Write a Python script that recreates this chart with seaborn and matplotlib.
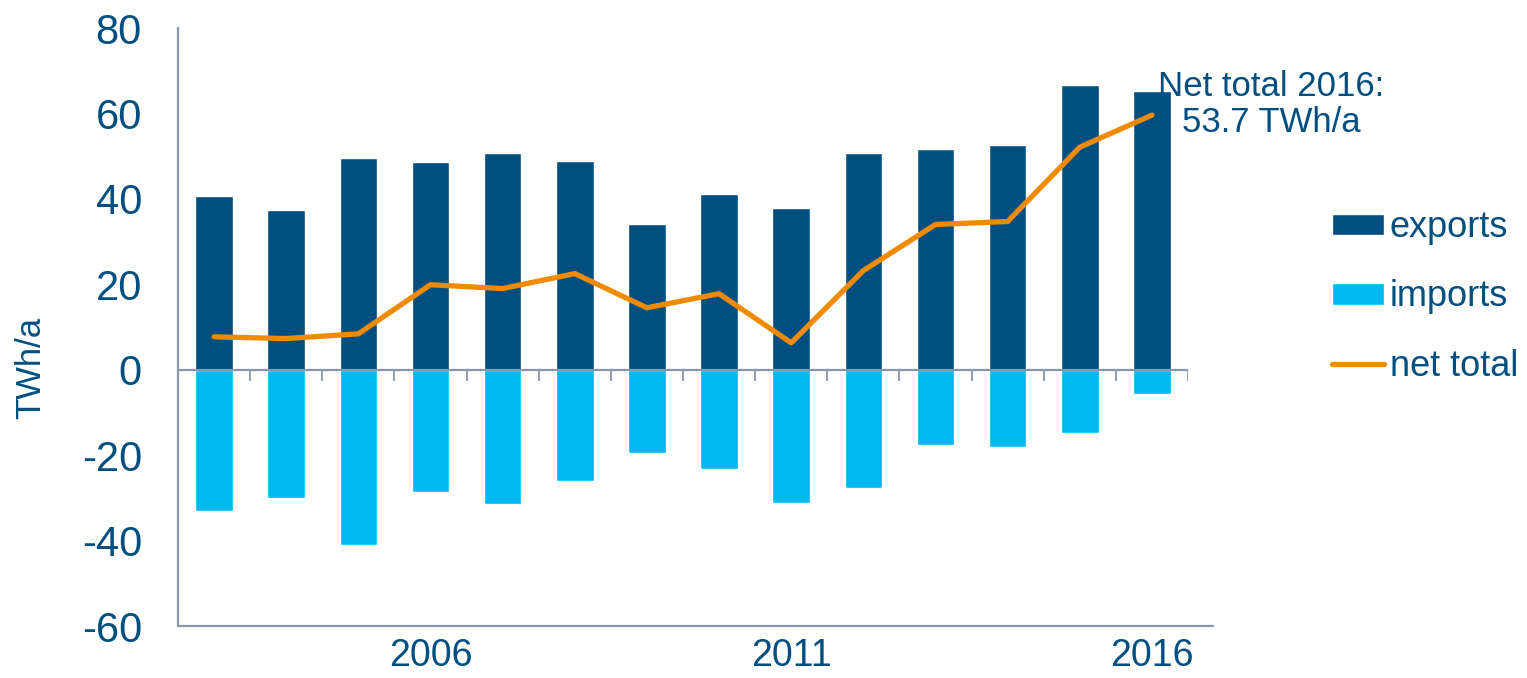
import numpy as np
import pandas as pd
import seaborn as sns
import matplotlib.pyplot as plt

# values (TWh/a)
years = [str(y) for y in range(2003, 2017)]
exports = [40.6, 37.5, 49.5, 48.6, 50.7, 48.8, 34.0, 41.1, 37.8, 50.7, 51.6, 52.6, 66.6, 65.2]
imports = [-33.1, -30.0, -41.1, -28.6, -31.4, -26.0, -19.5, -23.2, -31.2, -27.7, -17.6, -18.1, -14.8, -5.6]
net_total = [7.7, 7.3, 8.4, 19.9, 19.0, 22.5, 14.5, 17.8, 6.3, 23.2, 34.0, 34.7, 52.1, 59.6]
shown_years = ['2006', '2011', '2016']
y_ticks = [-60, -40, -20, 0, 20, 40, 60, 80]

EXPORT_COL = '#004f80'
IMPORT_COL = '#00b9f0'
NET_COL = '#f08a00'
TEXT_COL = '#004f80'
AXIS_COL = '#8a97ab'

sns.set_theme(style='white')
plt.rcParams['font.family'] = ['Liberation Sans', 'DejaVu Sans']

df = pd.DataFrame({'year': years, 'exports': exports, 'imports': imports, 'net': net_total})

fig = plt.figure(figsize=(15.27, 6.78), dpi=100)
ax = fig.add_axes([178 / 1527, 1 - 626 / 678, 1010 / 1527, 598 / 678])

sns.barplot(data=df, x='year', y='exports', color=EXPORT_COL, saturation=1,
            width=0.52, errorbar=None, ax=ax, label='exports')
sns.barplot(data=df, x='year', y='imports', color=IMPORT_COL, saturation=1,
            width=0.52, errorbar=None, ax=ax, label='imports')
sns.lineplot(x=df.index, y=df['net'], color=NET_COL, linewidth=3.8, ax=ax,
             label='net total', solid_capstyle='round', solid_joinstyle='round')

n = len(years)
ax.set_xlim(-0.5, n - 0.5)
ax.set_ylim(-60, 80)
ax.set_yticks(y_ticks)
ax.set_yticklabels([str(t) for t in y_ticks])
ax.set_xticks([years.index(y) for y in shown_years])
ax.set_xticklabels(shown_years)
ax.set_xlabel('')
ax.set_ylabel('')

ax.tick_params(axis='y', length=0, pad=26, labelsize=30, labelcolor=TEXT_COL)
ax.tick_params(axis='x', length=0, pad=9, labelsize=27, labelcolor=TEXT_COL)

# axes frame: left and bottom only
for side in ['top', 'right']:
    ax.spines[side].set_visible(False)
ax.spines['left'].set_color(AXIS_COL)
ax.spines['left'].set_linewidth(1.6)
ax.spines['bottom'].set_visible(False)
ax.plot([0, 1.025], [0, 0], transform=ax.transAxes, color=AXIS_COL,
        linewidth=1.6, clip_on=False, zorder=3)

# zero line with category separators
ax.axhline(0, color=AXIS_COL, linewidth=1.6, zorder=3)
ax.vlines(np.arange(n) + 0.5, -2.7, 0, color=AXIS_COL, linewidth=1.3, zorder=3)

ax.text(14.65, 62.1, 'Net total 2016:\n53.7 TWh/a', ha='center', va='center',
        multialignment='center', fontsize=25, color=TEXT_COL, clip_on=False,
        linespacing=1.15)

fig.text(31 / 1527, 1 - 368 / 678, 'TWh/a', rotation=90, ha='center', va='center',
         fontsize=25, color=TEXT_COL)

handles, labels = ax.get_legend_handles_labels()
order = [labels.index(k) for k in ['exports', 'imports', 'net total']]
leg = ax.legend([handles[i] for i in order], [labels[i] for i in order],
                loc='center left', bbox_to_anchor=(1332 / 1527, 1 - 297 / 678),
                bbox_transform=fig.transFigure, frameon=False, fontsize=26,
                borderpad=0, borderaxespad=0, handlelength=1.45, handleheight=0.55,
                handletextpad=0.15, labelspacing=0.95)
for t in leg.get_texts():
    t.set_color(TEXT_COL)

fig.savefig('out.png', dpi=100)
